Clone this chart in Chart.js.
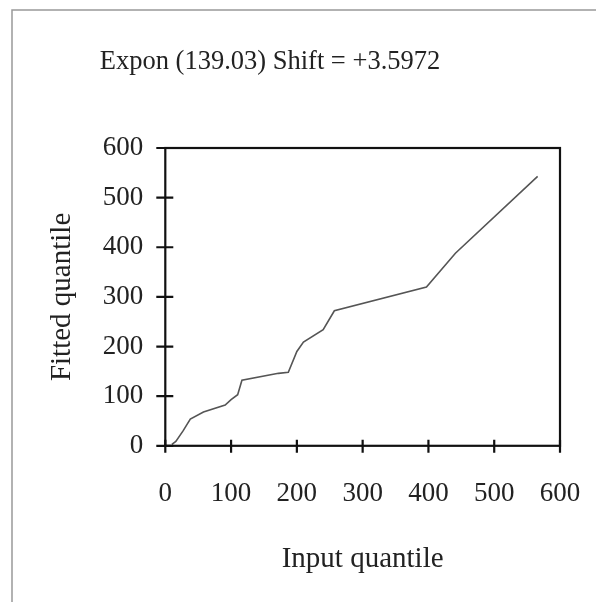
<!DOCTYPE html>
<html>
<head>
<meta charset="utf-8">
<script src="https://cdn.jsdelivr.net/npm/chart.js@4"></script>
<style>
  html, body { margin: 0; padding: 0; background: #fff; }
  #wrap { width: 596px; height: 602px; }
</style>
</head>
<body>
<div id="wrap"><canvas id="qq"></canvas></div>
<script>
const titleText = "Expon (139.03) Shift = +3.5972";
const xLabel = "Input quantile";
const yLabel = "Fitted quantile";
const axisTicks = [0, 100, 200, 300, 400, 500, 600];

// quantile pairs (input, fitted)
const inputQ  = [10, 16, 27, 38, 58, 91, 100, 110, 116.5, 172, 187, 200, 210, 240, 257, 397, 441, 566];
const fittedQ = [3, 9, 30, 54, 68, 82, 93, 103, 132, 146, 148, 190, 209, 234, 272, 320, 388, 543];

const points = inputQ.map((x, i) => ({ x: x, y: fittedQ[i] }));
const serif = "'Liberation Serif', 'DejaVu Serif', serif";

// outer frame, heading, box around the plot and cross ticks
const boxTicks = {
  id: 'boxTicks',
  afterDraw(chart) {
    const { ctx, chartArea: a, scales: { x, y } } = chart;
    ctx.save();
    ctx.strokeStyle = '#999';
    ctx.lineWidth = 1.5;
    ctx.beginPath();
    ctx.moveTo(12, 602);
    ctx.lineTo(12, 10);
    ctx.lineTo(596, 10);
    ctx.stroke();

    // heading sits left of the plot centre
    ctx.fillStyle = '#222';
    ctx.font = "26.5px " + serif;
    ctx.textAlign = 'center';
    ctx.textBaseline = 'middle';
    ctx.fillText(titleText, 270, 62);

    ctx.strokeStyle = '#111';
    ctx.lineWidth = 2.2;
    ctx.strokeRect(a.left, a.top, a.right - a.left, a.bottom - a.top);
    ctx.beginPath();
    axisTicks.forEach(v => {
      const px = x.getPixelForValue(v);
      ctx.moveTo(px, a.bottom - 6);
      ctx.lineTo(px, a.bottom + 7);
      const py = y.getPixelForValue(v);
      ctx.moveTo(a.left - 9, py);
      ctx.lineTo(a.left + 8, py);
    });
    ctx.stroke();
    ctx.restore();
  }
};

new Chart('qq', {
  type: 'scatter',
  data: {
    datasets: [{
      data: points,
      showLine: true,
      borderColor: '#555',
      borderWidth: 1.6,
      pointRadius: 0,
      tension: 0
    }]
  },
  options: {
    responsive: true,
    maintainAspectRatio: false,
    animation: false,
    layout: { padding: { left: 36, right: 36, top: 148, bottom: 0 } },
    plugins: {
      legend: { display: false },
      tooltip: { enabled: false }
    },
    scales: {
      x: {
        type: 'linear',
        min: 0, max: 600,
        afterBuildTicks: s => { s.ticks = axisTicks.map(v => ({ value: v })); },
        // the outer labels may run past the plot edges
        afterFit: s => { s.paddingLeft = 0; s.paddingRight = 0; },
        grid: { display: false, drawTicks: false },
        border: { display: false },
        ticks: {
          color: '#222',
          padding: 32,
          maxRotation: 0,
          font: { family: serif, size: 27 }
        },
        title: {
          display: true,
          text: xLabel,
          color: '#222',
          font: { family: serif, size: 29 },
          padding: { top: 0, bottom: 25 }
        }
      },
      y: {
        type: 'linear',
        min: 0, max: 600,
        afterBuildTicks: s => { s.ticks = axisTicks.map(v => ({ value: v })); },
        grid: { display: false, drawTicks: false },
        border: { display: false },
        ticks: {
          color: '#222',
          padding: 22,
          font: { family: serif, size: 27 }
        },
        title: {
          display: true,
          text: yLabel,
          color: '#222',
          font: { family: serif, size: 29 },
          padding: { top: 9, bottom: 1 }
        }
      }
    }
  },
  plugins: [boxTicks]
});
</script>
</body>
</html>
